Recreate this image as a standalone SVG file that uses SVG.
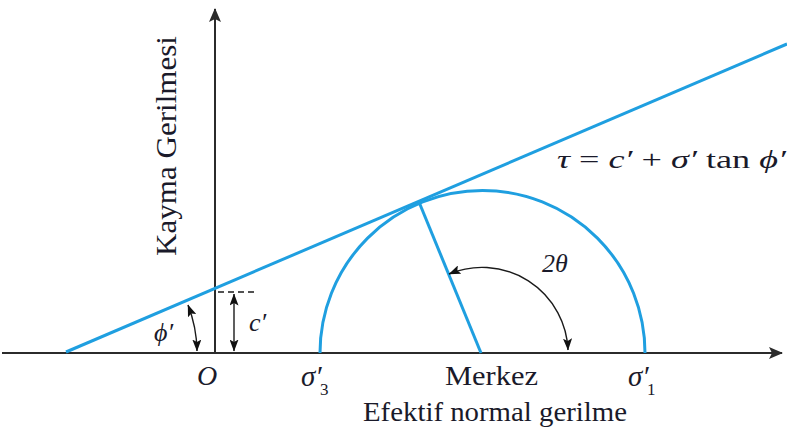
<svg xmlns="http://www.w3.org/2000/svg" width="787" height="432" viewBox="0 0 787 432">
<style>
.ax{stroke:#2b2b2b;stroke-width:2;fill:none}
.bl{stroke:#1f9fe0;stroke-width:3;fill:none}
.ar{stroke:#1a1a1a;stroke-width:1.4;fill:none}
.t{font-family:"Liberation Serif","Times New Roman",serif;fill:#1a1a2a}
.m{font-family:"Liberation Serif","Times New Roman",serif;font-style:italic;fill:#1a1a2a}
</style>
<defs>
<marker id="ah" viewBox="0 0 14 12" refX="13" refY="6" markerWidth="14" markerHeight="12" markerUnits="userSpaceOnUse" orient="auto-start-reverse">
<path d="M0,0 L14,6 L0,12 L3,6 Z" fill="#2b2b2b"/>
</marker>
<marker id="sa" viewBox="0 0 12 9" refX="11.5" refY="4.5" markerWidth="12" markerHeight="9" markerUnits="userSpaceOnUse" orient="auto-start-reverse">
<path d="M0,0 L12,4.5 L0,9 L2.5,4.5 Z" fill="#111"/>
</marker>
</defs>
<g id="axes">
<line class="ax" x1="2" y1="353" x2="782" y2="353" marker-end="url(#ah)"/>
<line class="ax" x1="215" y1="353" x2="215" y2="9" marker-end="url(#ah)"/>
</g>
<g id="failure-envelope">
<line class="bl" x1="66" y1="352" x2="787" y2="44"/>
</g>
<g id="mohr-circle">
<path class="bl" d="M320,353 A162.5,162.5 0 0 1 645,353"/>
<line class="bl" x1="481" y1="353" x2="419" y2="202"/>
</g>
<g id="connectors">
<line x1="218" y1="292" x2="254" y2="292" stroke="#1a1a1a" stroke-width="1.3" stroke-dasharray="6,4"/>
<line class="ar" x1="234" y1="351" x2="234" y2="294" marker-start="url(#sa)" marker-end="url(#sa)"/>
<path class="ar" d="M197,351 A131,131 0 0 0 188,305" marker-start="url(#sa)" marker-end="url(#sa)"/>
<path class="ar" d="M449,274 A86,86 0 0 1 568,350" marker-start="url(#sa)" marker-end="url(#sa)"/>
</g>
<g id="labels">
<text class="t" font-size="30" text-anchor="middle" textLength="220" lengthAdjust="spacingAndGlyphs" transform="translate(176,146) rotate(-90)">Kayma Gerilmesi</text>
<text class="m" x="557" y="168" font-size="26" textLength="229" lengthAdjust="spacingAndGlyphs">τ <tspan font-style="normal">=</tspan> c′ <tspan font-style="normal">+</tspan> σ′ <tspan font-style="normal">tan</tspan> ϕ′</text>
<text class="m" x="542" y="272" font-size="26">2θ</text>
<text class="m" x="154" y="341" font-size="26">ϕ′</text>
<text class="m" x="249" y="331" font-size="26">c′</text>
<text class="m" x="197" y="385" font-size="28">O</text>
<text class="m" x="301" y="386" font-size="29">σ′</text>
<text class="t" x="320" y="395" font-size="17">3</text>
<text class="t" x="445" y="385" font-size="28" textLength="93" lengthAdjust="spacingAndGlyphs">Merkez</text>
<text class="m" x="628" y="386" font-size="29">σ′</text>
<text class="t" x="647" y="395" font-size="17">1</text>
<text class="t" x="363" y="421" font-size="27" textLength="264" lengthAdjust="spacingAndGlyphs">Efektif normal gerilme</text>
</g>
</svg>
